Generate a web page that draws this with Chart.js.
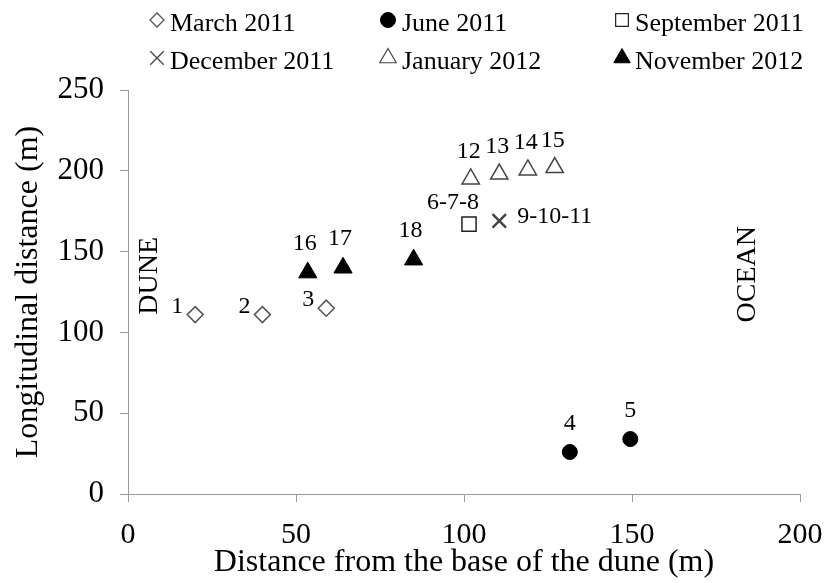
<!DOCTYPE html>
<html>
<head>
<meta charset="utf-8">
<title>Longitudinal distance vs distance from the base of the dune</title>
<script src="https://cdn.jsdelivr.net/npm/chart.js@4.4.1/dist/chart.umd.min.js"></script>
<style>
    html, body { margin: 0; padding: 0; background: #fff; }
</style>
</head>
<body>
<canvas id="duneChart" width="828" height="583"></canvas>
<script>
// =========================
// DATA
// =========================
const seriesNames = ["March 2011", "June 2011", "September 2011", "December 2011", "January 2012", "November 2012"];

const marchX = [20, 40, 59];
const marchY = [111, 111, 115];
const marchTags = ["1", "2", "3"];

const juneX = [131.5, 149.5];
const juneY = [26, 34];
const juneTags = ["4", "5"];

const septX = [101.5];
const septY = [167];
const septTags = ["6-7-8"];

const decX = [110.5];
const decY = [169];
const decTags = ["9-10-11"];

const janX = [102, 110.5, 119, 127];
const janY = [195, 198, 200.5, 202];
const janTags = ["12", "13", "14", "15"];

const novX = [53.5, 64, 85];
const novY = [137, 140, 145];
const novTags = ["16", "17", "18"];

const xTicks = [0, 50, 100, 150, 200];
const yTicks = [0, 50, 100, 150, 200, 250];

const SERIF = "'Liberation Serif', 'Times New Roman', serif";

function pairUp(xs, ys) {
    return xs.map((x, i) => ({ x: x, y: ys[i] }));
}

// =========================
// PLUGINS
// =========================

// point numbers next to the markers
const pointTags = {
    id: "pointTags",
    afterDatasetsDraw(chart) {
        const ctx = chart.ctx;
        ctx.save();
        ctx.font = "24px " + SERIF;
        ctx.fillStyle = "#000";
        ctx.textBaseline = "middle";
        chart.data.datasets.forEach((ds, i) => {
            const meta = chart.getDatasetMeta(i);
            const p = ds.tagPlace;
            ctx.textAlign = p.align;
            meta.data.forEach((pt, j) => {
                ctx.fillText(ds.tags[j], pt.x + p.dx, pt.y + p.dy);
            });
        });
        ctx.restore();
    }
};

// two-row legend on top
const gridLegend = {
    id: "gridLegend",
    afterDraw(chart, args, opts) {
        const ctx = chart.ctx;
        ctx.save();
        chart.data.datasets.forEach((ds, i) => {
            const col = i % 3;
            const row = Math.floor(i / 3);
            const mx = opts.markerX[col];
            const y = opts.rowY[row];

            ctx.fillStyle = ds.pointBackgroundColor;
            ctx.strokeStyle = ds.pointBorderColor;
            ctx.lineWidth = ds.legendBorderWidth;
            Chart.helpers.drawPoint(ctx, {
                pointStyle: ds.pointStyle,
                radius: ds.legendRadius,
                borderWidth: ds.legendBorderWidth,
                rotation: 0
            }, mx, y - 4);

            ctx.fillStyle = "#000";
            ctx.font = opts.font;
            ctx.textAlign = "left";
            ctx.textBaseline = "middle";
            ctx.fillText(ds.label, opts.textX[col], y);
        });
        ctx.restore();
    }
};

// DUNE / OCEAN side words
const sideWords = {
    id: "sideWords",
    afterDraw(chart, args, opts) {
        const ctx = chart.ctx;
        const xs = chart.scales.x;
        const ys = chart.scales.y;
        ctx.save();
        ctx.font = opts.font;
        ctx.fillStyle = "#000";
        ctx.textAlign = "center";
        ctx.textBaseline = "middle";
        opts.words.forEach(w => {
            ctx.save();
            ctx.translate(xs.getPixelForValue(w.x), ys.getPixelForValue(w.y));
            ctx.rotate(-Math.PI / 2);
            ctx.fillText(w.text, 0, 0);
            ctx.restore();
        });
        ctx.restore();
    }
};

// =========================
// CHART
// =========================
const axisGray = "#9a9a9a";

new Chart(document.getElementById("duneChart"), {
    type: "scatter",
    data: {
        datasets: [
            {
                label: seriesNames[0],
                data: pairUp(marchX, marchY),
                tags: marchTags,
                tagPlace: { align: "right", dx: -12, dy: -8 },
                pointStyle: "rectRot",
                pointRadius: 8,
                legendRadius: 7,
                legendBorderWidth: 1.3,
                pointBackgroundColor: "#fff",
                pointBorderColor: "#555",
                pointBorderWidth: 1.5
            },
            {
                label: seriesNames[1],
                data: pairUp(juneX, juneY),
                tags: juneTags,
                tagPlace: { align: "center", dx: 0, dy: -28 },
                pointStyle: "circle",
                pointRadius: 7.5,
                legendRadius: 7.5,
                legendBorderWidth: 1,
                pointBackgroundColor: "#000",
                pointBorderColor: "#000",
                pointBorderWidth: 1
            },
            {
                label: seriesNames[2],
                data: pairUp(septX, septY),
                tags: septTags,
                tagPlace: { align: "center", dx: -16, dy: -21 },
                pointStyle: "rect",
                pointRadius: 10,
                legendRadius: 9,
                legendBorderWidth: 1.2,
                pointBackgroundColor: "#fff",
                pointBorderColor: "#222",
                pointBorderWidth: 1.5
            },
            {
                label: seriesNames[3],
                data: pairUp(decX, decY),
                tags: decTags,
                tagPlace: { align: "left", dx: 18, dy: -4 },
                pointStyle: "crossRot",
                pointRadius: 9.5,
                legendRadius: 9.5,
                legendBorderWidth: 1.3,
                pointBackgroundColor: "#444",
                pointBorderColor: "#444",
                pointBorderWidth: 2.5
            },
            {
                label: seriesNames[4],
                data: pairUp(janX, janY),
                tags: janTags,
                tagPlace: { align: "center", dx: -2, dy: -27 },
                pointStyle: "triangle",
                pointRadius: 10,
                legendRadius: 9.5,
                legendBorderWidth: 1.2,
                pointBackgroundColor: "#fff",
                pointBorderColor: "#444",
                pointBorderWidth: 1.5
            },
            {
                label: seriesNames[5],
                data: pairUp(novX, novY),
                tags: novTags,
                tagPlace: { align: "center", dx: -3, dy: -29 },
                pointStyle: "triangle",
                pointRadius: 10.5,
                legendRadius: 9.5,
                legendBorderWidth: 1,
                pointBackgroundColor: "#000",
                pointBorderColor: "#000",
                pointBorderWidth: 1
            }
        ]
    },
    options: {
        responsive: false,
        animation: false,
        devicePixelRatio: 1,
        layout: {
            padding: { top: 90, right: 0, left: 0, bottom: 0 }
        },
        scales: {
            x: {
                type: "linear",
                min: 0,
                max: 200,
                afterBuildTicks: scale => { scale.ticks = xTicks.map(v => ({ value: v })); },
                afterFit: scale => {
                    scale.height = 89;
                    scale.paddingRight = 28;
                },
                border: { display: true, color: axisGray, width: 1 },
                grid: { display: true, drawOnChartArea: false, drawTicks: true, tickLength: 8, color: axisGray },
                ticks: { color: "#000", font: { family: SERIF, size: 30 }, padding: 15, maxRotation: 0 },
                title: {
                    display: true,
                    text: "Distance from the base of the dune (m)",
                    color: "#000",
                    font: { family: SERIF, size: 32 },
                    padding: { top: 0, bottom: 1 }
                }
            },
            y: {
                type: "linear",
                min: 0,
                max: 250,
                afterBuildTicks: scale => { scale.ticks = yTicks.map(v => ({ value: v })); },
                afterFit: scale => { scale.width = 128; },
                border: { display: true, color: axisGray, width: 1 },
                grid: { display: true, drawOnChartArea: false, drawTicks: true, tickLength: 8, color: axisGray },
                ticks: { color: "#000", font: { family: SERIF, size: 31 }, padding: 16 },
                title: {
                    display: true,
                    text: "Longitudinal distance (m)",
                    color: "#000",
                    font: { family: SERIF, size: 32 },
                    padding: { top: 9, bottom: 0 }
                }
            }
        },
        plugins: {
            legend: { display: false },
            tooltip: { enabled: false },
            gridLegend: {
                font: "26px " + SERIF,
                markerX: [157, 388, 622],
                textX: [170, 402, 635],
                rowY: [24, 62]
            },
            sideWords: {
                font: "28px " + SERIF,
                words: [
                    { text: "DUNE", x: 6.5, y: 135 },
                    { text: "OCEAN", x: 184.5, y: 136 }
                ]
            }
        }
    },
    plugins: [pointTags, gridLegend, sideWords]
});
</script>
</body>
</html>
